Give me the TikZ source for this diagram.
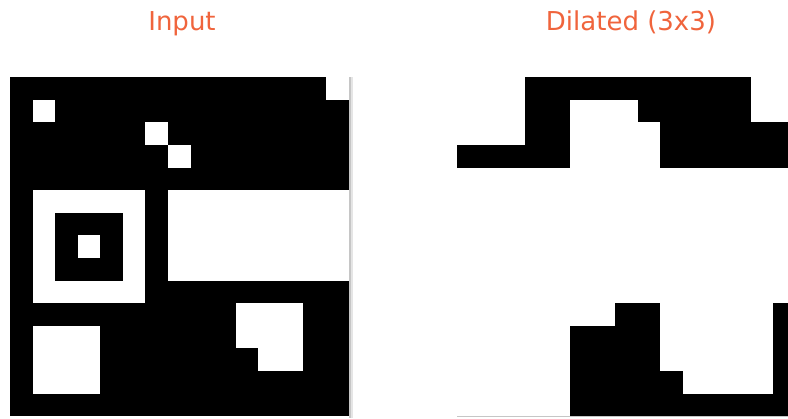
\documentclass[tikz,border=0pt]{standalone}
\usepackage{fontspec}
\setmainfont{DejaVu Sans}
\definecolor{titleorange}{HTML}{F0643C}
\begin{document}
\begin{tikzpicture}[x=1pt,y=-1pt,
  title/.style={anchor=base,text=titleorange,font=\fontsize{26}{30}\selectfont,inner sep=0pt},
  blk/.style={fill=black},
  wht/.style={fill=white}]
\useasboundingbox (0,0) rectangle (788,419);
\clip (0,0) rectangle (788,419);
\fill[white] (0,0) rectangle (788,419);

\node[title] (tin) at (182,31) {Input};
\node[title] (tdil) at (631,31) {Dilated (3x3)};

% shadow on right edge of input grid
\fill[gray!45] (348.5,77.3) rectangle (350.5,418);
\fill[gray!20] (350.5,77.3) rectangle (352.5,418);

% Input grid 15x15
\begin{scope}[xshift=10pt,yshift=-77.3pt,x=22.57pt,y=-22.6pt]
  \fill[blk] (0,0) rectangle (15,15);
  \fill[wht] (14,0) rectangle (15,1);
  \fill[wht] (1,1) rectangle (2,2);
  \fill[wht] (6,2) rectangle (7,3);
  \fill[wht] (7,3) rectangle (8,4);
  \fill[wht] (1,5) rectangle (6,10);
  \fill[blk] (2,6) rectangle (5,9);
  \fill[wht] (3,7) rectangle (4,8);
  \fill[wht] (7,5) rectangle (15,9);
  \fill[wht] (10,10) rectangle (13,12);
  \fill[wht] (11,12) rectangle (13,13);
  \fill[wht] (1,11) rectangle (4,14);
\end{scope}

% Dilated grid 15x15 (cropped at right)
\begin{scope}[xshift=457.3pt,yshift=-77.3pt,x=22.57pt,y=-22.6pt]
  \draw[gray!45,line width=0.8pt] (0,15) -- (15,15);
  \fill[blk] (3,0) rectangle (13,1);
  \fill[blk] (3,1) rectangle (5,4);
  \fill[blk] (8,1) rectangle (13,2);
  \fill[blk] (9,2) rectangle (15,4);
  \fill[blk] (0,3) rectangle (3,4);
  \fill[blk] (7,10) rectangle (9,11);
  \fill[blk] (5,11) rectangle (9,15);
  \fill[blk] (9,13) rectangle (10,15);
  \fill[blk] (10,14) rectangle (14,15);
  \fill[blk] (14,10) rectangle (15,15);
\end{scope}
\end{tikzpicture}
\end{document}
